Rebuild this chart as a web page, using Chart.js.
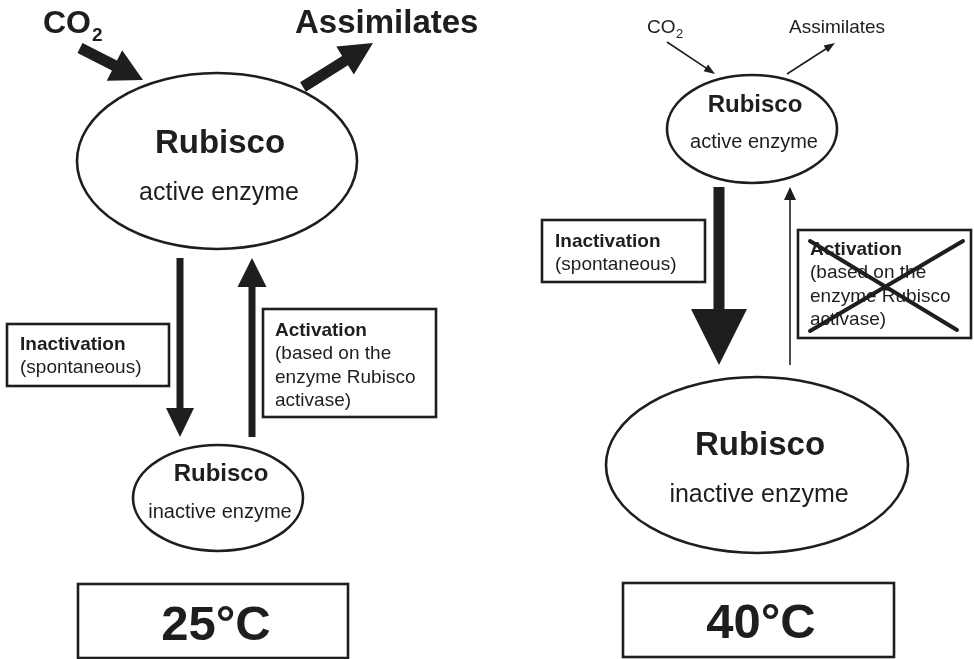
<!DOCTYPE html>
<html>
<head>
<meta charset="utf-8">
<script src="https://cdn.jsdelivr.net/npm/chart.js@4/dist/chart.umd.min.js"></script>
<style>
html,body{margin:0;padding:0;background:#fff;}
canvas{display:block;}
</style>
</head>
<body>
<canvas id="c" width="974" height="659"></canvas>
<script>
// ---- content (text) ----
const panelTemps = ['25°C', '40°C'];
const enzymeName = 'Rubisco';
const enzymeStates = ['active enzyme', 'inactive enzyme'];
const fluxLabels = ['CO', 'Assimilates'];
const processTitles = ['Inactivation', 'Activation'];
const processNotes = [['(spontaneous)'], ['(based on the', 'enzyme Rubisco', 'activase)']];

// ---- layout in diagram units (x 0..974, y 0..659) ----
// ellipses: [cx, cy, rx, ry, titleSize, titleBaseline, stateSize, stateBaseline, stateIndex]
const ellipses = [
  [217, 161, 140, 88, 33, 153, 25, 200, 0],
  [218, 498, 85, 53, 24, 481, 20, 518, 1],
  [752, 129, 85, 54, 24, 112, 20, 148, 0],
  [757, 465, 151, 88, 33, 455, 25, 502, 1]
];
// arrows: [x0, y0, x1(tip), y1(tip), shaftWidth, headLen, headWidth]
const arrows = [
  [80, 48, 143, 80, 11, 32, 34],
  [303, 87, 373, 43, 11, 33, 33],
  [180, 258, 180, 437, 7, 29, 28],
  [252, 437, 252, 258, 7, 29, 29],
  [667, 42, 715, 74, 1.6, 11, 8],
  [787, 74, 835, 43, 1.6, 11, 8],
  [719, 187, 719, 365, 11, 56, 56],
  [790, 365, 790, 187, 1.6, 13, 12]
];
// process boxes: [x0, y0, x1, y1, textX, firstBaseline, lineStep, processIndex]
const boxes = [
  [7, 324, 169, 386, 20, 350, 23, 0],
  [263, 309, 436, 417, 275, 336, 23.4, 1],
  [542, 220, 705, 282, 555, 247, 23, 0],
  [798, 230, 971, 338, 810, 255, 23.4, 1]
];
// temperature boxes: [x0, y0, x1, y1, textCx, baseline]
const tempBoxes = [
  [78, 584, 348, 658, 216, 640],
  [623, 583, 894, 657, 761, 638]
];
// flux labels: [x, baseline, size, bold, subX, subBaseline, subSize, labelIndex]
const fluxText = [
  [43, 33, 32, true, 92, 41, 19, 0],
  [295, 33, 33, true, 0, 0, 0, 1],
  [647, 33, 19, false, 676, 38, 13, 0],
  [789, 33, 19, false, 0, 0, 0, 1]
];
// crossed-out lines: [x0, y0, x1, y1]
const crossLines = [
  [810, 241, 957, 330],
  [963, 241, 810, 331]
];

const INK = '#1e1e1e';
const FONT = '"Liberation Sans", Arial, Helvetica, sans-serif';

const diagramPlugin = {
  id: 'diagram',
  afterDatasetsDraw(chart) {
    const ctx = chart.ctx;
    const xs = chart.scales.x, ys = chart.scales.y;
    const X = v => xs.getPixelForValue(v);
    const Y = v => ys.getPixelForValue(v);
    ctx.save();
    ctx.strokeStyle = INK;
    ctx.fillStyle = INK;
    ctx.textBaseline = 'alphabetic';

    // ellipses
    ellipses.forEach(e => {
      const [cx, cy, rx, ry, ts, tb, ss, sb, si] = e;
      const pcx = X(cx), pcy = Y(cy);
      const prx = Math.abs(X(cx + rx) - pcx), pry = Math.abs(Y(cy + ry) - pcy);
      ctx.beginPath();
      ctx.ellipse(pcx, pcy, prx, pry, 0, 0, Math.PI * 2);
      ctx.lineWidth = 2.6;
      ctx.fillStyle = '#fff';
      ctx.fill();
      ctx.stroke();
      ctx.fillStyle = INK;
      ctx.textAlign = 'center';
      ctx.font = 'bold ' + ts + 'px ' + FONT;
      ctx.fillText(enzymeName, pcx + 3, Y(tb));
      ctx.font = ss + 'px ' + FONT;
      ctx.fillText(enzymeStates[si], pcx + 2, Y(sb));
    });

    // arrows
    arrows.forEach(a => {
      const [x0, y0, x1, y1, sw, hl, hw] = a;
      const p0x = X(x0), p0y = Y(y0), p1x = X(x1), p1y = Y(y1);
      const dx = p1x - p0x, dy = p1y - p0y;
      const L = Math.hypot(dx, dy);
      const ux = dx / L, uy = dy / L;
      const nx = -uy, ny = ux;
      const bx = p1x - ux * hl, by = p1y - uy * hl;
      ctx.beginPath();
      ctx.moveTo(p0x + nx * sw / 2, p0y + ny * sw / 2);
      ctx.lineTo(bx + nx * sw / 2, by + ny * sw / 2);
      ctx.lineTo(bx + nx * hw / 2, by + ny * hw / 2);
      ctx.lineTo(p1x, p1y);
      ctx.lineTo(bx - nx * hw / 2, by - ny * hw / 2);
      ctx.lineTo(bx - nx * sw / 2, by - ny * sw / 2);
      ctx.lineTo(p0x - nx * sw / 2, p0y - ny * sw / 2);
      ctx.closePath();
      ctx.fill();
    });

    // process boxes
    boxes.forEach(b => {
      const [bx0, by0, bx1, by1, tx, fb, step, pi] = b;
      ctx.lineWidth = 2.6;
      ctx.fillStyle = '#fff';
      ctx.fillRect(X(bx0), Y(by0), X(bx1) - X(bx0), Y(by1) - Y(by0));
      ctx.strokeRect(X(bx0), Y(by0), X(bx1) - X(bx0), Y(by1) - Y(by0));
      ctx.fillStyle = INK;
      ctx.textAlign = 'left';
      ctx.font = 'bold 19px ' + FONT;
      ctx.fillText(processTitles[pi], X(tx), Y(fb));
      ctx.font = '19px ' + FONT;
      processNotes[pi].forEach((ln, i) => ctx.fillText(ln, X(tx), Y(fb + step * (i + 1))));
    });

    // crossed-out lines
    ctx.lineWidth = 4;
    ctx.lineCap = 'round';
    crossLines.forEach(l => {
      ctx.beginPath();
      ctx.moveTo(X(l[0]), Y(l[1]));
      ctx.lineTo(X(l[2]), Y(l[3]));
      ctx.stroke();
    });
    ctx.lineCap = 'butt';

    // temperature boxes
    tempBoxes.forEach((t, i) => {
      const [tx0, ty0, tx1, ty1, tcx, tb] = t;
      ctx.lineWidth = 2.6;
      ctx.strokeRect(X(tx0), Y(ty0), X(tx1) - X(tx0), Y(ty1) - Y(ty0));
      ctx.textAlign = 'center';
      ctx.font = 'bold 49px ' + FONT;
      ctx.fillText(panelTemps[i], X(tcx), Y(tb));
    });

    // flux labels
    fluxText.forEach(f => {
      const [fx, fb, fs, bold, sx, sb, ss, li] = f;
      ctx.textAlign = 'left';
      ctx.font = (bold ? 'bold ' : '') + fs + 'px ' + FONT;
      ctx.fillText(fluxLabels[li], X(fx), Y(fb));
      if (ss) {
        ctx.font = (bold ? 'bold ' : '') + ss + 'px ' + FONT;
        ctx.fillText('2', X(sx), Y(sb));
      }
    });
    ctx.restore();
  }
};

new Chart(document.getElementById('c'), {
  type: 'scatter',
  data: {
    datasets: [{
      label: 'nodes',
      data: ellipses.map(e => ({ x: e[0], y: e[1] })),
      pointRadius: 0,
      pointHoverRadius: 0
    }]
  },
  options: {
    responsive: false,
    animation: false,
    devicePixelRatio: 1,
    layout: { padding: 0 },
    plugins: { legend: { display: false }, tooltip: { enabled: false } },
    events: [],
    scales: {
      x: { type: 'linear', min: 0, max: 974, display: false },
      y: { type: 'linear', min: 0, max: 659, reverse: true, display: false }
    }
  },
  plugins: [diagramPlugin]
});
</script>
</body>
</html>
